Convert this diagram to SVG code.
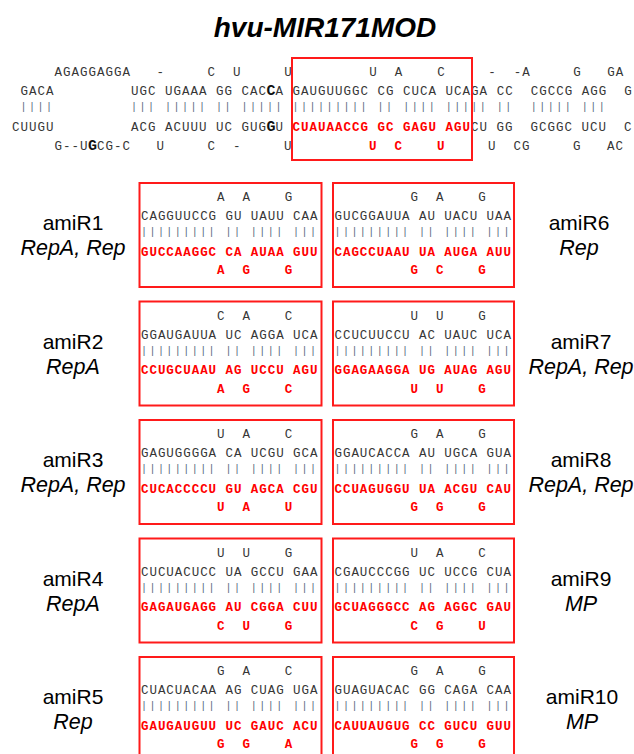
<svg xmlns="http://www.w3.org/2000/svg" width="634" height="754" viewBox="0 0 634 754">
<style>
text{white-space:pre}
.t{font-family:"Liberation Mono",monospace;font-size:12.5px;letter-spacing:1px;fill:#363636}
.b{font-family:"Liberation Mono",monospace;font-size:10px;letter-spacing:2.5px;fill:#55677a}
.bx .t{letter-spacing:0.95px}
.bx .b{letter-spacing:2.45px}
.r{fill:#ff0000;font-weight:bold}
.big{font-weight:bold;font-size:15px;fill:#111}
.box{fill:none;stroke:#ff1a1a;stroke-width:2}
.lab{font-family:"Liberation Sans",Arial,sans-serif;font-size:21px;fill:#000;text-anchor:middle}
.it{font-style:italic;font-size:21.5px}
.title{font-family:"Liberation Sans",Arial,sans-serif;font-size:28px;font-weight:bold;font-style:italic;text-anchor:middle;fill:#000}
</style>
<rect width="634" height="754" fill="#fff"/>
<text class="title" x="325" y="37">hvu-MIR171MOD</text>

<g id="precursor">
<text class="t" xml:space="preserve" y="75.5"><tspan x="54.6">AGAGGAGGA   -     C  U     U         U  A    C     -  -A     G   GA</tspan></text>
<text class="t" xml:space="preserve" y="95"><tspan x="20.6">GACA</tspan><tspan x="131.1">UGC UGAAA GG CAC</tspan><tspan x="266.6" class="big">C</tspan><tspan x="275.6">A GAUGUUGGC CG CUCA UCAGA CC  CGCCG AGG  G</tspan></text>
<text class="b" xml:space="preserve" y="110"><tspan x="20.6">||||</tspan><tspan x="131.1">||| ||||| || ||||| ||||||||| || |||| ||||| ||  ||||| |||</tspan></text>
<text class="t" xml:space="preserve" y="130.5"><tspan x="12.1">CUUGU</tspan><tspan x="131.1">ACG ACUUU UC GUG</tspan><tspan x="266.6" class="big">G</tspan><tspan x="275.6">U</tspan><tspan x="292.6" class="r">CUAUAACCG GC GAGU AGU</tspan><tspan x="471.1">CU GG  GCGGC UCU  C</tspan></text>
<text class="t" xml:space="preserve" y="150"><tspan x="54.6">G--U</tspan><tspan x="88.1" class="big">G</tspan><tspan x="97.1">CG-C   U     C  -     U</tspan><tspan x="369.1" class="r">U  C    U</tspan><tspan x="488.1">U  CG     G   AC</tspan></text>
<rect class="box" x="292" y="58" width="180" height="102"/>
</g>

<g id="amiR1" class="bx">
<rect class="box" x="139.5" y="183" width="182" height="104"/>
<text class="t" xml:space="preserve" x="141" y="201">         A  A    G</text>
<text class="t" xml:space="preserve" x="141" y="220">CAGGUUCCG GU UAUU CAA</text>
<text class="b" xml:space="preserve" x="141" y="235">||||||||| || |||| |||</text>
<text class="t r" xml:space="preserve" x="141" y="255.5">GUCCAAGGC CA AUAA GUU</text>
<text class="t r" xml:space="preserve" x="141" y="274">         A  G    G</text>
<text class="lab" x="73" y="230">amiR1</text>
<text class="lab it" x="73" y="255">RepA, Rep</text>
</g>
<g id="amiR6" class="bx">
<rect class="box" x="333" y="183" width="181" height="104"/>
<text class="t" xml:space="preserve" x="334.5" y="201">         G  A    G</text>
<text class="t" xml:space="preserve" x="334.5" y="220">GUCGGAUUA AU UACU UAA</text>
<text class="b" xml:space="preserve" x="334.5" y="235">||||||||| || |||| |||</text>
<text class="t r" xml:space="preserve" x="334.5" y="255.5">CAGCCUAAU UA AUGA AUU</text>
<text class="t r" xml:space="preserve" x="334.5" y="274">         G  C    G</text>
<text class="lab" x="579" y="230">amiR6</text>
<text class="lab it" x="579" y="255">Rep</text>
</g>

<g id="amiR2" class="bx">
<rect class="box" x="139.5" y="301.5" width="182" height="104"/>
<text class="t" xml:space="preserve" x="141" y="319.5">         C  A    C</text>
<text class="t" xml:space="preserve" x="141" y="338.5">GGAUGAUUA UC AGGA UCA</text>
<text class="b" xml:space="preserve" x="141" y="353.5">||||||||| || |||| |||</text>
<text class="t r" xml:space="preserve" x="141" y="374">CCUGCUAAU AG UCCU AGU</text>
<text class="t r" xml:space="preserve" x="141" y="392.5">         A  G    C</text>
<text class="lab" x="73" y="348.5">amiR2</text>
<text class="lab it" x="73" y="373.5">RepA</text>
</g>
<g id="amiR7" class="bx">
<rect class="box" x="333" y="301.5" width="181" height="104"/>
<text class="t" xml:space="preserve" x="334.5" y="319.5">         U  U    G</text>
<text class="t" xml:space="preserve" x="334.5" y="338.5">CCUCUUCCU AC UAUC UCA</text>
<text class="b" xml:space="preserve" x="334.5" y="353.5">||||||||| || |||| |||</text>
<text class="t r" xml:space="preserve" x="334.5" y="374">GGAGAAGGA UG AUAG AGU</text>
<text class="t r" xml:space="preserve" x="334.5" y="392.5">         U  U    G</text>
<text class="lab" x="581" y="348.5">amiR7</text>
<text class="lab it" x="581" y="373.5">RepA, Rep</text>
</g>

<g id="amiR3" class="bx">
<rect class="box" x="139.5" y="420" width="182" height="104"/>
<text class="t" xml:space="preserve" x="141" y="438">         U  A    C</text>
<text class="t" xml:space="preserve" x="141" y="457">GAGUGGGGA CA UCGU GCA</text>
<text class="b" xml:space="preserve" x="141" y="472">||||||||| || |||| |||</text>
<text class="t r" xml:space="preserve" x="141" y="492.5">CUCACCCCU GU AGCA CGU</text>
<text class="t r" xml:space="preserve" x="141" y="511">         U  A    U</text>
<text class="lab" x="73" y="467">amiR3</text>
<text class="lab it" x="73" y="492">RepA, Rep</text>
</g>
<g id="amiR8" class="bx">
<rect class="box" x="333" y="420" width="181" height="104"/>
<text class="t" xml:space="preserve" x="334.5" y="438">         G  A    G</text>
<text class="t" xml:space="preserve" x="334.5" y="457">GGAUCACCA AU UGCA GUA</text>
<text class="b" xml:space="preserve" x="334.5" y="472">||||||||| || |||| |||</text>
<text class="t r" xml:space="preserve" x="334.5" y="492.5">CCUAGUGGU UA ACGU CAU</text>
<text class="t r" xml:space="preserve" x="334.5" y="511">         G  G    G</text>
<text class="lab" x="581" y="467">amiR8</text>
<text class="lab it" x="581" y="492">RepA, Rep</text>
</g>

<g id="amiR4" class="bx">
<rect class="box" x="139.5" y="538.5" width="182" height="104"/>
<text class="t" xml:space="preserve" x="141" y="556.5">         U  U    G</text>
<text class="t" xml:space="preserve" x="141" y="575.5">CUCUACUCC UA GCCU GAA</text>
<text class="b" xml:space="preserve" x="141" y="590.5">||||||||| || |||| |||</text>
<text class="t r" xml:space="preserve" x="141" y="611">GAGAUGAGG AU CGGA CUU</text>
<text class="t r" xml:space="preserve" x="141" y="629.5">         C  U    G</text>
<text class="lab" x="73" y="585.5">amiR4</text>
<text class="lab it" x="73" y="610.5">RepA</text>
</g>
<g id="amiR9" class="bx">
<rect class="box" x="333" y="538.5" width="181" height="104"/>
<text class="t" xml:space="preserve" x="334.5" y="556.5">         U  A    C</text>
<text class="t" xml:space="preserve" x="334.5" y="575.5">CGAUCCCGG UC UCCG CUA</text>
<text class="b" xml:space="preserve" x="334.5" y="590.5">||||||||| || |||| |||</text>
<text class="t r" xml:space="preserve" x="334.5" y="611">GCUAGGGCC AG AGGC GAU</text>
<text class="t r" xml:space="preserve" x="334.5" y="629.5">         C  G    U</text>
<text class="lab" x="581" y="585.5">amiR9</text>
<text class="lab it" x="581" y="610.5">MP</text>
</g>

<g id="amiR5" class="bx">
<rect class="box" x="139.5" y="657" width="182" height="104"/>
<text class="t" xml:space="preserve" x="141" y="675">         G  A    C</text>
<text class="t" xml:space="preserve" x="141" y="694">CUACUACAA AG CUAG UGA</text>
<text class="b" xml:space="preserve" x="141" y="709">||||||||| || |||| |||</text>
<text class="t r" xml:space="preserve" x="141" y="729.5">GAUGAUGUU UC GAUC ACU</text>
<text class="t r" xml:space="preserve" x="141" y="748">         G  G    A</text>
<text class="lab" x="73" y="704">amiR5</text>
<text class="lab it" x="73" y="729">Rep</text>
</g>
<g id="amiR10" class="bx">
<rect class="box" x="333" y="657" width="181" height="104"/>
<text class="t" xml:space="preserve" x="334.5" y="675">         G  A    G</text>
<text class="t" xml:space="preserve" x="334.5" y="694">GUAGUACAC GG CAGA CAA</text>
<text class="b" xml:space="preserve" x="334.5" y="709">||||||||| || |||| |||</text>
<text class="t r" xml:space="preserve" x="334.5" y="729.5">CAUUAUGUG CC GUCU GUU</text>
<text class="t r" xml:space="preserve" x="334.5" y="748">         G  G    G</text>
<text class="lab" x="582" y="704">amiR10</text>
<text class="lab it" x="582" y="729">MP</text>
</g>
</svg>
